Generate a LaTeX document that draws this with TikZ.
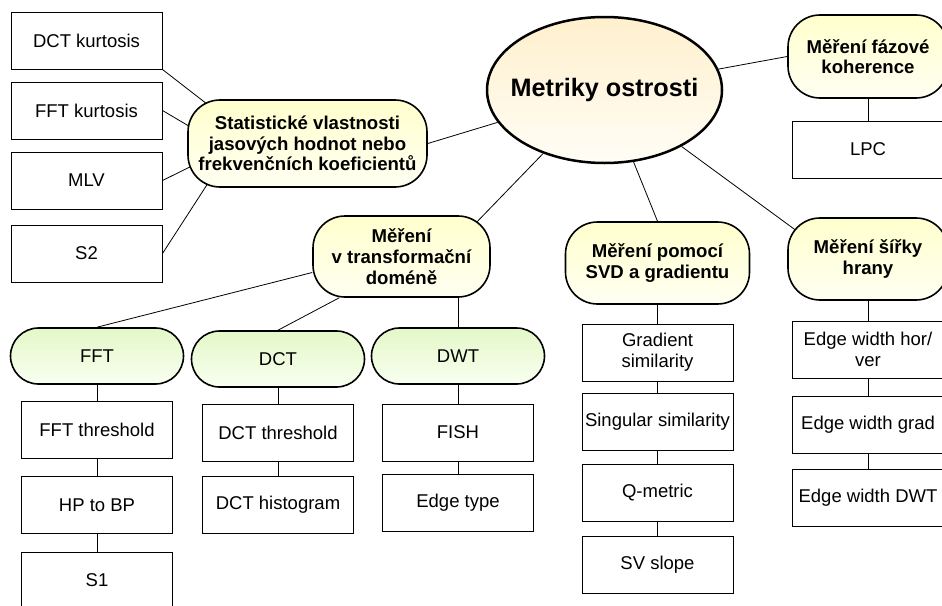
\documentclass[tikz,border=0pt]{standalone}
\usepackage{fontspec}
\setmainfont{Liberation Sans}
\usetikzlibrary{backgrounds,calc,shapes}
\definecolor{rootTop}{RGB}{255,240,205}
\definecolor{rootBot}{RGB}{255,253,245}
\definecolor{yelTop}{RGB}{255,255,205}
\definecolor{yelBot}{RGB}{255,255,242}
\definecolor{grnTop}{RGB}{228,248,200}
\definecolor{grnBot}{RGB}{248,255,240}

\begin{document}
\begin{tikzpicture}[x=1pt,y=-1pt,
every node/.style={align=center,inner sep=0,font=\fontsize{18.5}{20.7}\selectfont},
leaf/.style={draw,rectangle,fill=white,line width=1pt,minimum width=151pt,minimum height=57pt},
group/.style={draw,rectangle,rounded corners=32pt,line width=1.6pt,top color=yelTop,bottom color=yelBot,
  font=\fontsize{18.6}{20.7}\selectfont\bfseries},
branch/.style={draw,rectangle,rounded corners=28pt,line width=1.6pt,top color=grnTop,bottom color=grnBot,
  minimum width=173pt,minimum height=56pt},
link/.style={line width=0.8pt}]
\useasboundingbox (0,0) rectangle (942,605);

\node[ellipse,draw,line width=2.5pt,top color=rootTop,bottom color=rootBot,minimum width=235pt,
  minimum height=146pt,inner xsep=-14pt,font=\fontsize{25.2}{28}\selectfont\bfseries] (root) at (604.5,90) {Metriky ostrosti};

\node[group,minimum width=239pt,minimum height=87pt] (stat) at (307.5,143.5)
  {Statistické vlastnosti\\jasových hodnot nebo\\frekvenčních koeficientů};
\node[group,minimum width=177pt,minimum height=81pt] (trans) at (401.5,256.5) {Měření\\v transformační\\doméně};
\node[group,minimum width=184pt,minimum height=82pt] (svd) at (657.5,263) {Měření pomocí\\SVD a gradientu};
\node[group,minimum width=160pt,minimum height=82pt] (sirka) at (868,259) {Měření šířky\\hrany};
\node[group,minimum width=160pt,minimum height=83pt] (faze) at (868,56.5) {Měření fázové\\koherence};

% statisticke vlastnosti
\node[leaf] (stat-1) at (86.5,40.5) {DCT kurtosis};
\node[leaf] (stat-2) at (86.5,110.5) {FFT kurtosis};
\node[leaf] (stat-3) at (86.5,180.5) {MLV};
\node[leaf] (stat-4) at (86.5,253.5) {S2};

\node[leaf] (faze-1) at (868,149.5) {LPC};

% transformacni domena
\node[branch] (fft) at (97,356) {FFT};
\node[branch] (dct) at (278,359) {DCT};
\node[branch] (dwt) at (458,356) {DWT};

\node[leaf] (fft-1) at (97,429.5) {FFT threshold};
\node[leaf] (fft-2) at (97,505) {HP to BP};
\node[leaf] (fft-3) at (97,580.5) {S1};
\node[leaf] (dct-1) at (278,432.5) {DCT threshold};
\node[leaf] (dct-2) at (278,505) {DCT histogram};
\node[leaf] (dwt-1) at (458,432.5) {FISH};
\node[leaf] (dwt-2) at (458,502.5) {Edge type};

\node[leaf] (svd-1) at (657.5,352.5) {Gradient\\similarity};
\node[leaf] (svd-2) at (657.5,422) {Singular similarity};
\node[leaf] (svd-3) at (657.5,492.5) {Q-metric};
\node[leaf] (svd-4) at (657.5,564.5) {SV slope};

\node[leaf] (sirka-1) at (868,349.5) {Edge width hor/\\ver};
\node[leaf] (sirka-2) at (868,424.5) {Edge width grad};
\node[leaf] (sirka-3) at (868,497.5) {Edge width DWT};

\begin{scope}[on background layer]
\draw[link] (root) -- (stat.east);
\draw[link] (root) -- ([xshift=42pt]trans.center);
\draw[link] (root) -- (svd.north);
\draw[link] (root) -- ([xshift=-33pt]sirka.center);
\draw[link] (root) -- (faze.west);

\draw[link] (stat-1.south east) -- ([xshift=42pt,yshift=-22pt]stat.north west);
\draw[link] (stat-2.east) -- ([xshift=27pt,yshift=2.5pt]stat.west);
\draw[link] (stat-3.east) -- ([xshift=27pt,yshift=-11.5pt]stat.west);
\draw[link] (stat-4.east) -- ([xshift=34pt,yshift=25pt]stat.south west);

\draw[link] (faze) -- (faze-1);

\draw[link] (fft.north) -- ([yshift=-16pt]trans.west);
\draw[link] (dct.north) -- ([xshift=27pt]trans.south west);
\draw[link] (dwt.north) -- (dwt.north |- trans.south);

\draw[link] (fft) -- (fft-1);
\draw[link] (fft-1) -- (fft-2);
\draw[link] (fft-2) -- (fft-3);
\draw[link] (dct) -- (dct-1);
\draw[link] (dct-1) -- (dct-2);
\draw[link] (dwt) -- (dwt-1);
\draw[link] (dwt-1) -- (dwt-2);
\draw[link] (svd) -- (svd-1);
\draw[link] (svd-1) -- (svd-2);
\draw[link] (svd-2) -- (svd-3);
\draw[link] (svd-3) -- (svd-4);
\draw[link] (sirka) -- (sirka-1);
\draw[link] (sirka-1) -- (sirka-2);
\draw[link] (sirka-2) -- (sirka-3);
\end{scope}
\end{tikzpicture}
\end{document}
